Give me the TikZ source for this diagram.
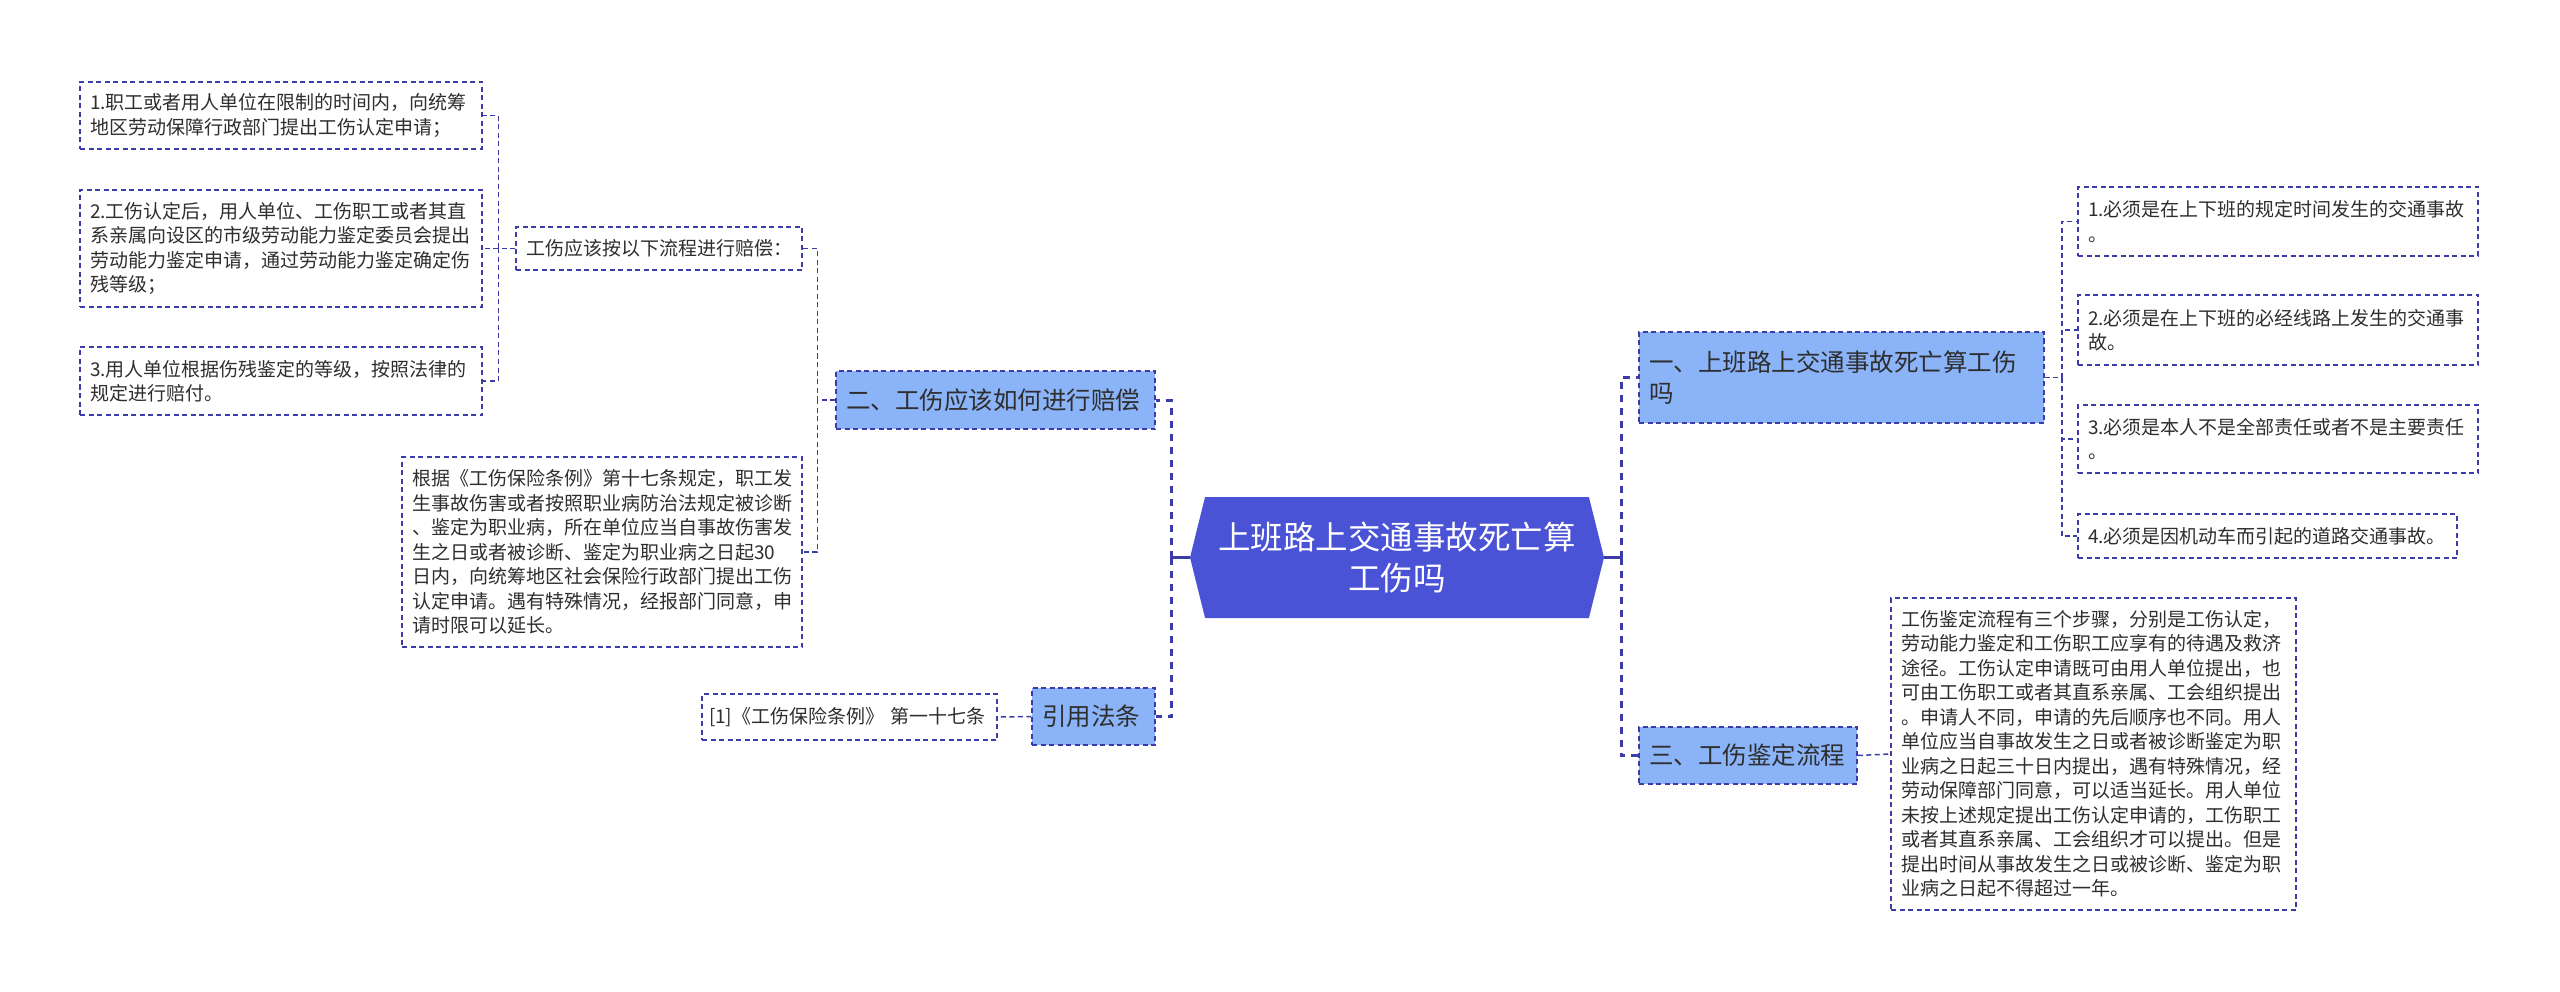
\documentclass[tikz,border=0pt]{standalone}
\usepackage{fontspec}
\setmainfont{Noto Sans CJK SC}
\usetikzlibrary{shapes.symbols}

\definecolor{hubblue}{HTML}{4A52D6}
\definecolor{branchblue}{HTML}{8AB3F8}
\definecolor{linenavy}{HTML}{3C3CA8}
\definecolor{inkgray}{HTML}{2E2E2E}

\begin{document}
\begin{tikzpicture}[x=1pt, y=-1pt,
    leaf/.style={rectangle, draw=linenavy, line width=1.5pt, dash pattern=on 5pt off 3.5pt, text=inkgray, font=\fontsize{19}{24.5}\selectfont, align=left, inner xsep=10pt, inner ysep=0pt},
    branch/.style={leaf, fill=branchblue, font=\fontsize{24.5}{31}\selectfont},
    hub/.style={signal, signal to=east and west, signal pointer angle=152, fill=hubblue, text=white, font=\fontsize{32.5}{41}\selectfont, align=center, inner sep=0pt},
    link/.style={draw=linenavy, line width=1.5pt, dash pattern=on 5pt off 3.5pt},
    trunk/.style={draw=linenavy, line width=3pt, dash pattern=on 7pt off 6pt},
    stem/.style={draw=linenavy, line width=2.5pt},
  ]
  \fill[white] (0,0) rectangle (2560,992);
  \useasboundingbox (0,0) rectangle (2560,992);

  % centre
  \node[hub, minimum width=414pt, minimum height=121pt] (hub) at (1397,557.5) {上班路上交通事故死亡算\\工伤吗};

  % left side
  \node[branch, text width=299pt, minimum height=58pt] (b2) at (995.5,400) {二、工伤应该如何进行赔偿};
  \node[branch, text width=103pt, minimum height=57pt] (b4) at (1093.5,716.5) {引用法条};

  \node[leaf, text width=266pt, minimum height=43pt] (p) at (659,248.5) {工伤应该按以下流程进行赔偿：};
  \node[leaf, text width=382pt, minimum height=67pt] (l1) at (281,115.5) {1.职工或者用人单位在限制的时间内，向统筹\\地区劳动保障行政部门提出工伤认定申请；};
  \node[leaf, text width=382pt, minimum height=117pt] (l2) at (281,248.5) {2.工伤认定后，用人单位、工伤职工或者其直\\系亲属向设区的市级劳动能力鉴定委员会提出\\劳动能力鉴定申请，通过劳动能力鉴定确定伤\\残等级；};
  \node[leaf, text width=382pt, minimum height=68pt] (l3) at (281,381) {3.用人单位根据伤残鉴定的等级，按照法律的\\规定进行赔付。};
  \node[leaf, text width=380pt, minimum height=190pt] (l4) at (602,552) {根据《工伤保险条例》第十七条规定，职工发\\生事故伤害或者按照职业病防治法规定被诊断\\、鉴定为职业病，所在单位应当自事故伤害发\\生之日或者被诊断、鉴定为职业病之日起30\\日内，向统筹地区社会保险行政部门提出工伤\\认定申请。遇有特殊情况，经报部门同意，申\\请时限可以延长。};
  \node[leaf, inner xsep=7pt, text width=281pt, minimum height=46pt] (q) at (849.5,717) {[1]《工伤保险条例》~第一十七条};

  % right side
  \node[branch, text width=385pt, minimum height=91pt] (b1) at (1841.5,377.5) {一、上班路上交通事故死亡算工伤\\吗};
  \node[branch, text width=198pt, minimum height=57pt] (b3) at (1748,755.5) {三、工伤鉴定流程};

  \node[leaf, text width=380pt, minimum height=69pt] (c1) at (2278,221.5) {1.必须是在上下班的规定时间发生的交通事故\\。};
  \node[leaf, text width=380pt, minimum height=70pt] (c2) at (2278,330) {2.必须是在上下班的必经线路上发生的交通事\\故。};
  \node[leaf, text width=380pt, minimum height=68pt] (c3) at (2278,439) {3.必须是本人不是全部责任或者不是主要责任\\。};
  \node[leaf, text width=359pt, minimum height=44pt] (c4) at (2267.5,536) {4.必须是因机动车而引起的道路交通事故。};
  \node[leaf, text width=385pt, minimum height=312pt] (d) at (2093.5,754) {工伤鉴定流程有三个步骤，分别是工伤认定，\\劳动能力鉴定和工伤职工应享有的待遇及救济\\途径。工伤认定申请既可由用人单位提出，也\\可由工伤职工或者其直系亲属、工会组织提出\\。申请人不同，申请的先后顺序也不同。用人\\单位应当自事故发生之日或者被诊断鉴定为职\\业病之日起三十日内提出，遇有特殊情况，经\\劳动保障部门同意，可以适当延长。用人单位\\未按上述规定提出工伤认定申请的，工伤职工\\或者其直系亲属、工会组织才可以提出。但是\\提出时间从事故发生之日或被诊断、鉴定为职\\业病之日起不得超过一年。};

  % connectors
  \draw[stem] (hub.west) -- ++(-18,0) coordinate (lbus);
  \draw[trunk] (lbus) |- (b2.east);
  \draw[trunk] (lbus) |- (b4.east);
  \draw[stem] (hub.east) -- ++(17,0) coordinate (rbus);
  \draw[trunk] (rbus) |- (b1.west);
  \draw[trunk] (rbus) |- (b3.west);

  \draw[link] (b2.west) -- ++(-18,0) |- (p.east);
  \draw[link] (b2.west) -- ++(-18,0) |- (l4.east);
  \draw[link] (p.west) -- ++(-17,0) |- (l1.east);
  \draw[link] (p.west) -- ++(-17,0) |- (l2.east);
  \draw[link] (p.west) -- ++(-17,0) |- (l3.east);
  \draw[link] (b4.west) -- (q.east);

  \draw[link] (b1.east) -- ++(17,0) |- (c1.west);
  \draw[link] (b1.east) -- ++(17,0) |- (c2.west);
  \draw[link] (b1.east) -- ++(17,0) |- (c3.west);
  \draw[link] (b1.east) -- ++(17,0) |- (c4.west);
  \draw[link] (b3.east) -- (d.west);
\end{tikzpicture}
\end{document}
